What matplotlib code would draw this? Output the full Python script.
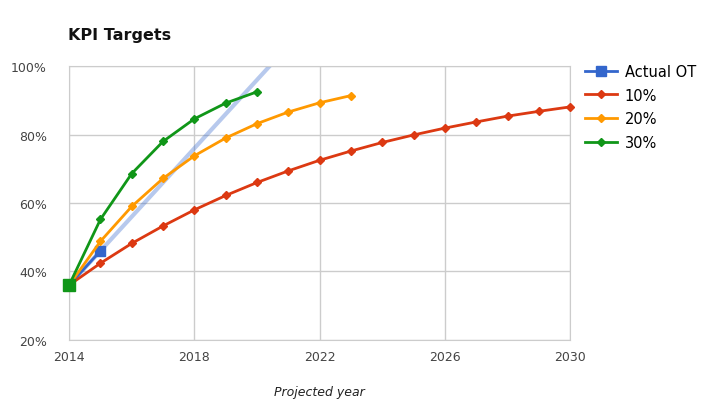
import numpy as np
import matplotlib
matplotlib.use("Agg")
from matplotlib import pyplot as plt
from matplotlib.ticker import FuncFormatter

# years and series values (percent)
actual_years = [2014, 2015]
actual_ot = [36.0, 46.0]

years_10 = list(range(2014, 2031))
kpi_10 = [36.0, 42.4, 48.2, 53.3, 58.0, 62.2, 66.0, 69.4, 72.5,
          75.2, 77.7, 79.9, 81.9, 83.7, 85.4, 86.8, 88.1]

years_20 = list(range(2014, 2024))
kpi_20 = [36.0, 48.8, 59.0, 67.2, 73.8, 79.0, 83.2, 86.6, 89.3, 91.4]

years_30 = list(range(2014, 2021))
kpi_30 = [36.0, 55.2, 68.6, 78.0, 84.6, 89.2, 92.5]

x_ticks = [2014, 2018, 2022, 2026, 2030]
y_ticks = [20, 40, 60, 80, 100]

blue = "#3366cc"
red = "#dc3912"
orange = "#ff9900"
green = "#109618"

fig = plt.figure(figsize=(7.05, 4.02), dpi=100)
ax = fig.add_axes([0.098, 0.152, 0.711, 0.681])

# linear trendline through the actual values
k, b = np.polyfit(actual_years, actual_ot, 1)
tx = np.array([2014, 2030])
ax.plot(tx, k * tx + b, color=blue, alpha=0.35, lw=3, zorder=2)

ax.plot(actual_years, actual_ot, color=blue, lw=2, marker="s", ms=7,
        label="Actual OT", zorder=3, clip_on=False)
ax.plot(years_10, kpi_10, color=red, lw=2, marker="D", ms=4.5,
        label="10%", zorder=4, clip_on=False)
ax.plot(years_20, kpi_20, color=orange, lw=2, marker="D", ms=4.5,
        label="20%", zorder=5, clip_on=False)
ax.plot(years_30, kpi_30, color=green, lw=2, marker="D", ms=4.5,
        label="30%", zorder=6, clip_on=False)
ax.plot([2014], [36.0], color=green, marker="s", ms=8, ls="none",
        zorder=7, clip_on=False)

ax.set_xlim(2014, 2030)
ax.set_ylim(20, 100)
ax.set_xticks(x_ticks)
ax.set_yticks(y_ticks)
ax.yaxis.set_major_formatter(FuncFormatter(lambda v, p: "%d%%" % v))
ax.tick_params(length=0, labelsize=9, labelcolor="#444444")
ax.tick_params(axis="y", pad=16)
ax.tick_params(axis="x", pad=7)
ax.grid(color="#cccccc", lw=1)
ax.set_axisbelow(True)
for s in ax.spines.values():
    s.set_color("#cccccc")

fig.text(0.097, 0.9, "KPI Targets", fontsize=11.5, fontweight="bold",
         color="#111111")
fig.text(0.453, 0.015, "Projected year", fontsize=9, style="italic",
         color="#222222", ha="center")

ax.legend(loc="upper left", bbox_to_anchor=(1.018, 1.03), frameon=False,
          fontsize=10.5, handlelength=2.2, handletextpad=0.5,
          labelspacing=0.6, borderaxespad=0)

fig.savefig("out.png", dpi=100)
